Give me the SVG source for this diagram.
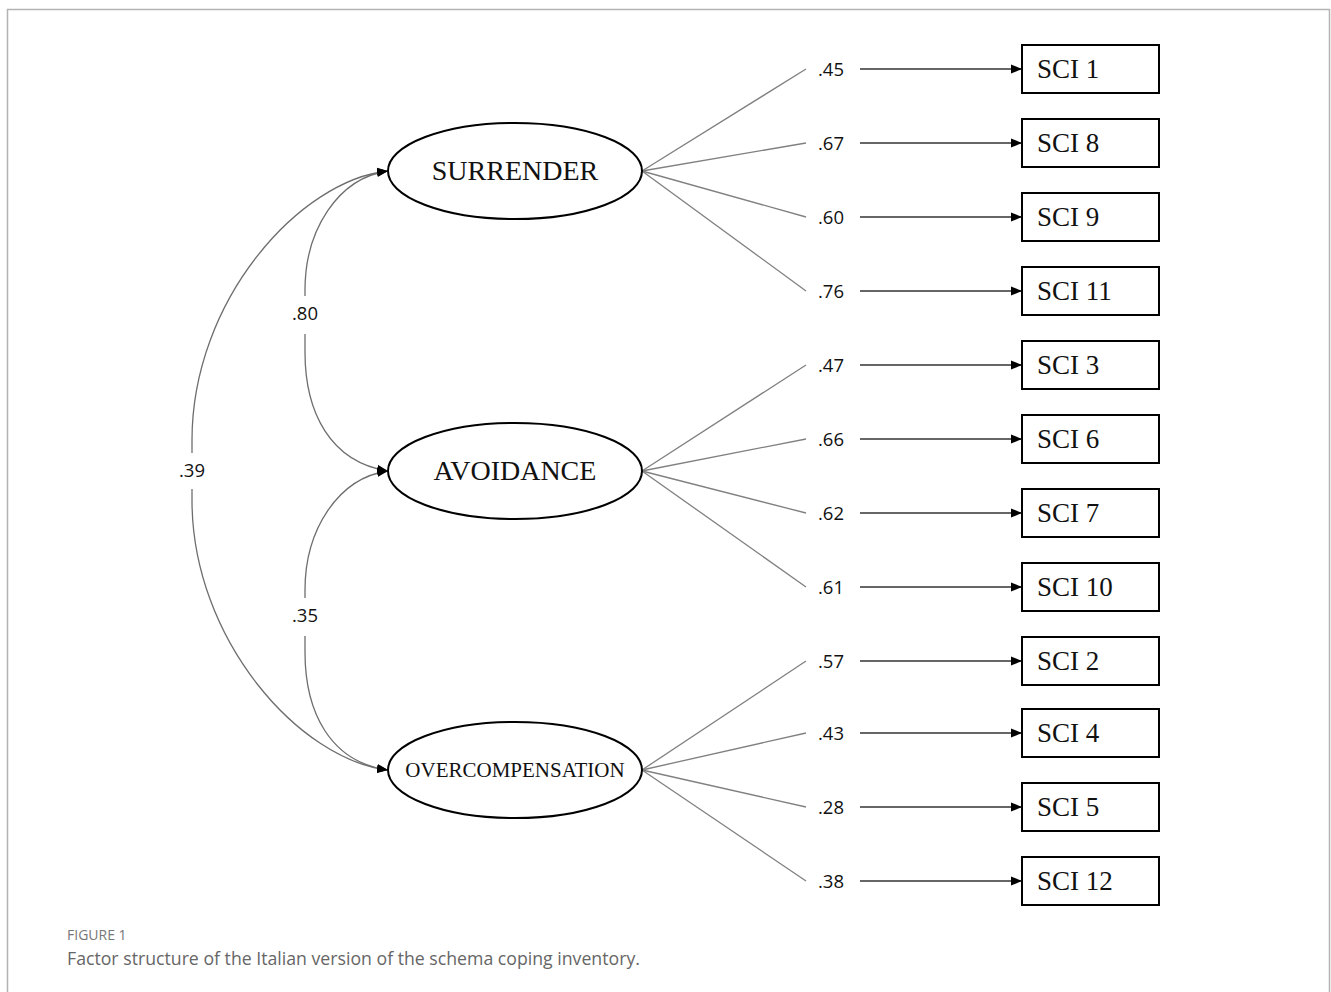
<svg xmlns="http://www.w3.org/2000/svg" width="1331" height="992" viewBox="0 0 1331 992">
<style>
.frame{fill:none;stroke:#b3b3b3;stroke-width:1.5}
.lat{fill:#fff;stroke:#000;stroke-width:2}
.box{fill:#fff;stroke:#000;stroke-width:2}
.latt{font-family:"Liberation Serif","Times New Roman",serif;fill:#111;text-anchor:middle}
.boxt{font-family:"Liberation Serif","Times New Roman",serif;font-size:27px;fill:#111}
.num{font-family:"Open Sans","DejaVu Sans",sans-serif;font-size:18.5px;fill:#111;text-anchor:middle}
.load{stroke:#808080;stroke-width:1.3;fill:none}
.arr{stroke:#333;stroke-width:1.3;fill:none;marker-end:url(#ah)}
.cov{stroke:#6e6e6e;stroke-width:1.3;fill:none;marker-start:url(#ah);marker-end:url(#ah)}
.cap1{font-family:"Open Sans","Noto Sans",sans-serif;font-size:14px;fill:#777;font-weight:500}
.cap2{font-family:"Open Sans","Noto Sans",sans-serif;font-size:17.7px;fill:#666}
</style>
<defs>
<marker id="ah" markerUnits="userSpaceOnUse" markerWidth="12" markerHeight="10" refX="11" refY="5" orient="auto-start-reverse">
<path d="M0,0.5 L11,5 L0,9.5 z" fill="#000"/>
</marker>
</defs>
<rect class="frame" x="7.5" y="9.5" width="1322" height="1000"/>

<g id="connectors">
<path class="cov" d="M388,171 C300,180 192,300 192,440 L192,500 C192,640 300,760 388,770"/>
<path class="cov" d="M388,171 C338,178 305,230 305,290 L305,352 C305,412 330,462 388,471"/>
<path class="cov" d="M388,471 C338,478 305,530 305,590 L305,652 C305,712 330,762 388,770"/>
<rect x="174" y="453" width="36" height="36" fill="#fff"/>
<text class="num" x="192" y="477">.39</text>
<rect x="287" y="296" width="36" height="38" fill="#fff"/>
<text class="num" x="305" y="320">.80</text>
<rect x="287" y="598" width="36" height="38" fill="#fff"/>
<text class="num" x="305" y="622">.35</text>

<line class="load" x1="642" y1="171" x2="806" y2="69"/>
<line class="load" x1="642" y1="171" x2="806" y2="143"/>
<line class="load" x1="642" y1="171" x2="806" y2="217"/>
<line class="load" x1="642" y1="171" x2="806" y2="291"/>
<line class="load" x1="642" y1="471" x2="806" y2="365"/>
<line class="load" x1="642" y1="471" x2="806" y2="439"/>
<line class="load" x1="642" y1="471" x2="806" y2="513"/>
<line class="load" x1="642" y1="471" x2="806" y2="587"/>
<line class="load" x1="642" y1="770" x2="806" y2="661"/>
<line class="load" x1="642" y1="770" x2="806" y2="733"/>
<line class="load" x1="642" y1="770" x2="806" y2="807"/>
<line class="load" x1="642" y1="770" x2="806" y2="881"/>

<text class="num" x="831" y="76">.45</text>
<text class="num" x="831" y="150">.67</text>
<text class="num" x="831" y="224">.60</text>
<text class="num" x="831" y="298">.76</text>
<text class="num" x="831" y="372">.47</text>
<text class="num" x="831" y="446">.66</text>
<text class="num" x="831" y="520">.62</text>
<text class="num" x="831" y="594">.61</text>
<text class="num" x="831" y="668">.57</text>
<text class="num" x="831" y="740">.43</text>
<text class="num" x="831" y="814">.28</text>
<text class="num" x="831" y="888">.38</text>

<line class="arr" x1="860" y1="69" x2="1022" y2="69"/>
<line class="arr" x1="860" y1="143" x2="1022" y2="143"/>
<line class="arr" x1="860" y1="217" x2="1022" y2="217"/>
<line class="arr" x1="860" y1="291" x2="1022" y2="291"/>
<line class="arr" x1="860" y1="365" x2="1022" y2="365"/>
<line class="arr" x1="860" y1="439" x2="1022" y2="439"/>
<line class="arr" x1="860" y1="513" x2="1022" y2="513"/>
<line class="arr" x1="860" y1="587" x2="1022" y2="587"/>
<line class="arr" x1="860" y1="661" x2="1022" y2="661"/>
<line class="arr" x1="860" y1="733" x2="1022" y2="733"/>
<line class="arr" x1="860" y1="807" x2="1022" y2="807"/>
<line class="arr" x1="860" y1="881" x2="1022" y2="881"/>
</g>

<g id="surrender"><ellipse class="lat" cx="515" cy="171" rx="127" ry="48"/><text class="latt" x="515" y="180" font-size="28">SURRENDER</text></g>
<g id="avoidance"><ellipse class="lat" cx="515" cy="471" rx="127" ry="48"/><text class="latt" x="515" y="480" font-size="28">AVOIDANCE</text></g>
<g id="overcompensation"><ellipse class="lat" cx="515" cy="770" rx="127" ry="48"/><text class="latt" x="515" y="777" font-size="21">OVERCOMPENSATION</text></g>

<g id="sci1"><rect class="box" x="1022" y="45" width="137" height="48"/><text class="boxt" x="1037" y="78">SCI 1</text></g>
<g id="sci8"><rect class="box" x="1022" y="119" width="137" height="48"/><text class="boxt" x="1037" y="152">SCI 8</text></g>
<g id="sci9"><rect class="box" x="1022" y="193" width="137" height="48"/><text class="boxt" x="1037" y="226">SCI 9</text></g>
<g id="sci11"><rect class="box" x="1022" y="267" width="137" height="48"/><text class="boxt" x="1037" y="300">SCI 11</text></g>
<g id="sci3"><rect class="box" x="1022" y="341" width="137" height="48"/><text class="boxt" x="1037" y="374">SCI 3</text></g>
<g id="sci6"><rect class="box" x="1022" y="415" width="137" height="48"/><text class="boxt" x="1037" y="448">SCI 6</text></g>
<g id="sci7"><rect class="box" x="1022" y="489" width="137" height="48"/><text class="boxt" x="1037" y="522">SCI 7</text></g>
<g id="sci10"><rect class="box" x="1022" y="563" width="137" height="48"/><text class="boxt" x="1037" y="596">SCI 10</text></g>
<g id="sci2"><rect class="box" x="1022" y="637" width="137" height="48"/><text class="boxt" x="1037" y="670">SCI 2</text></g>
<g id="sci4"><rect class="box" x="1022" y="709" width="137" height="48"/><text class="boxt" x="1037" y="742">SCI 4</text></g>
<g id="sci5"><rect class="box" x="1022" y="783" width="137" height="48"/><text class="boxt" x="1037" y="816">SCI 5</text></g>
<g id="sci12"><rect class="box" x="1022" y="857" width="137" height="48"/><text class="boxt" x="1037" y="890">SCI 12</text></g>

<g id="caption">
<text class="cap1" x="67" y="940">FIGURE 1</text>
<text class="cap2" x="67" y="965">Factor structure of the Italian version of the schema coping inventory.</text>
</g>
</svg>
